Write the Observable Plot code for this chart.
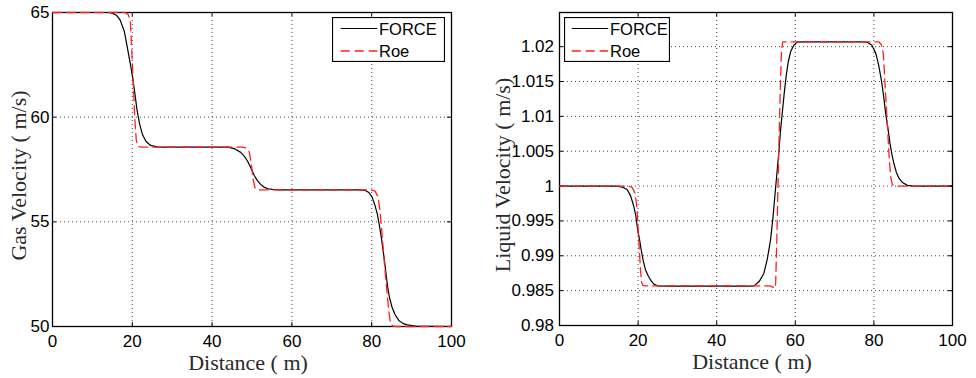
<!DOCTYPE html>
<html><head><meta charset="utf-8">
<script src="https://cdn.jsdelivr.net/npm/d3@7"></script>
<script src="https://cdn.jsdelivr.net/npm/@observablehq/plot@0.6"></script>
<style>
body{margin:0;background:#fff;}
#wrap{position:relative;width:976px;height:378px;overflow:hidden;background:#fff;}
#wrap svg{position:absolute;top:0;}
</style></head><body><div id="wrap"></div>
<script>
// ---- tick values / labels ----
const xTicks = [0, 20, 40, 60, 80, 100];
const gasTicks = [50, 55, 60, 65];
const liqTicks = [0.98, 0.985, 0.99, 0.995, 1, 1.005, 1.01, 1.015, 1.02];
const seriesNames = ["FORCE", "Roe"];
const xLabel = "Distance ( m)";
const gasLabel = "Gas Velocity ( m/s)";
const liqLabel = "Liquid Velocity ( m/s)";

// ---- Gas velocity, FORCE ----
const gasForceX = [0, 14, 15, 16, 17, 18, 18.9, 19.6, 20.2, 20.7, 21.2, 21.8, 22.5, 23.4, 24.6, 26.2, 28,
  44, 45.5, 47.1, 48, 48.8, 49.4, 50.0, 50.6, 51.3, 52.1, 53.0, 54, 55.1, 57,
  77, 78.4, 79.3, 80.1, 80.8, 81.4, 81.9, 82.4, 82.8, 83.2, 83.6, 84.0, 84.5, 85.1, 85.9, 86.8, 87.8, 88.9, 91, 100];
const gasForceY = [65, 65, 64.97, 64.87, 64.62, 64.1, 63.18, 62.45, 61.75, 61.05, 60.32, 59.7, 59.2, 58.85, 58.65, 58.58, 58.57,
  58.57, 58.5, 58.33, 58.15, 57.93, 57.7, 57.45, 57.2, 56.98, 56.8, 56.66, 56.58, 56.55, 56.53,
  56.53, 56.5, 56.4, 56.18, 55.8, 55.38, 54.85, 54.27, 53.7, 53.15, 52.5, 51.88, 51.35, 50.92, 50.55, 50.29, 50.15, 50.08, 50.02, 50];

// ---- Gas velocity, Roe ----
const gasRoeX = [0, 18.2, 19.0, 19.5, 19.8, 20.2, 20.6, 21.0, 21.4, 22,
  47.5, 48.6, 49.3, 49.7, 50.0, 50.3, 50.7, 51.2, 52,
  79.7, 80.8, 81.6, 82.1, 82.6, 83.2, 83.8, 84.3, 84.7, 85.2, 86, 100];
const gasRoeY = [65, 65, 64.9, 64.6, 63.5, 61.8, 60.0, 58.9, 58.6, 58.57,
  58.57, 58.53, 58.35, 57.9, 57.5, 57.0, 56.65, 56.55, 56.53,
  56.53, 56.48, 56.2, 55.5, 54.4, 53.0, 51.7, 50.7, 50.2, 50.03, 50, 50];

// ---- Liquid velocity, FORCE ----
const liqForceX = [0, 14, 15.1, 16.2, 17.2, 18.1, 18.9, 19.4, 19.9, 20.4, 20.8, 21.3, 21.9, 22.5, 23.2, 24.0, 24.9, 27,
  48, 49.5, 50.8, 52.0, 52.9, 53.7, 54.3, 54.8, 55.3, 55.8, 56.2, 56.7, 57.2, 57.7, 58.2, 58.8, 59.6, 60.5, 62.2, 64,
  77, 78.4, 79.5, 80.5, 81.2, 81.9, 82.5, 83.0, 83.6, 84.1, 84.6, 85.1, 85.7, 86.4, 87.3, 88.5, 90, 100];
const liqForceY = [1, 1, 0.99995, 0.9998, 0.9995, 0.9986, 0.9971, 0.9958, 0.9937, 0.9922, 0.9908, 0.9893, 0.98795, 0.9872, 0.9865, 0.98595, 0.98568, 0.98565,
  0.98565, 0.98568, 0.9863, 0.98747, 0.9896, 0.99228, 0.9954, 0.99854, 1.0017, 1.00481, 1.0077, 1.01059, 1.0134, 1.01588, 1.0178, 1.01926, 1.0202, 1.02065, 1.0207, 1.0207,
  1.0207, 1.0206, 1.0202, 1.0190, 1.0174, 1.0152, 1.0128, 1.0104, 1.0082, 1.0061, 1.0045, 1.0032, 1.0020, 1.0011, 1.0005, 1.0001, 1.0, 1.0];

// ---- Liquid velocity, Roe ----
const liqRoeX = [0, 17.6, 18.5, 19.2, 19.7, 20.0, 20.3, 20.6, 20.9, 21.2, 21.9,
  53.6, 54.3, 54.7, 55.0, 55.3, 55.6, 55.9, 56.2, 56.5, 56.8, 57.5,
  81.2, 81.9, 82.4, 82.7, 83.1, 83.5, 83.9, 84.3, 84.7, 85.6, 100];
const liqRoeY = [1, 1, 0.9998, 0.999, 0.997, 0.994, 0.991, 0.988, 0.9862, 0.98575, 0.98568,
  0.98568, 0.9855, 0.9853, 0.986, 0.9925, 1.0, 1.0075, 1.0145, 1.0195, 1.0207, 1.0207,
  1.0207, 1.0203, 1.019, 1.016, 1.012, 1.008, 1.004, 1.0012, 1.0002, 1.0, 1.0];

const toRows = (xs, ys) => xs.map((x, i) => ({x, y: ys[i]}));
const RED = "#ff1f1f";
const DASH = "9,5";
const SERIF = "'Liberation Serif', 'Times New Roman', serif";

function panel(o) {
  const innerH = o.height - o.marginTop - o.marginBottom;
  const innerW = o.width - o.marginLeft - o.marginRight;
  const fmt = d => String(+d.toFixed(3));
  const svg = Plot.plot({
    width: o.width, height: o.height,
    marginLeft: o.marginLeft, marginRight: o.marginRight,
    marginTop: o.marginTop, marginBottom: o.marginBottom,
    style: {fontFamily: "'Liberation Sans', Arial, sans-serif", fontSize: "17px", color: "#000", background: "transparent", overflow: "visible"},
    x: {domain: [0, 100]},
    y: {domain: o.yDomain},
    marks: [
      Plot.gridX(xTicks, {stroke: "#333", strokeOpacity: 0.9, strokeDasharray: "1,3", strokeWidth: 1}),
      Plot.gridY(o.yTicks, {stroke: "#333", strokeOpacity: 0.9, strokeDasharray: "1,3", strokeWidth: 1}),
      Plot.tickX(xTicks, {x: d => d, insetTop: innerH - 4, stroke: "#000"}),
      Plot.tickX(xTicks, {x: d => d, insetBottom: innerH - 4, stroke: "#000"}),
      Plot.tickY(o.yTicks, {y: d => d, insetRight: innerW - 4, stroke: "#000"}),
      Plot.tickY(o.yTicks, {y: d => d, insetLeft: innerW - 4, stroke: "#000"}),
      Plot.axisX(xTicks, {tickSize: 0, tickPadding: 8, label: null, fontSize: 17, fill: "#000", tickFormat: fmt}),
      Plot.axisY(o.yTicks, {tickSize: 0, tickPadding: o.yPad, label: null, fontSize: 17, fill: "#000", tickFormat: fmt}),
      Plot.frame({stroke: "#000", strokeWidth: 1.3}),
      Plot.line(toRows(o.fx, o.fy), {x: "x", y: "y", stroke: "#000", strokeWidth: 1.2}),
      Plot.line(toRows(o.rx, o.ry), {x: "x", y: "y", stroke: RED, strokeWidth: 1.3, strokeDasharray: DASH}),
      Plot.text([xLabel], {frameAnchor: "bottom", lineAnchor: "middle", textAnchor: "middle", dy: 36, dx: -4, fontFamily: SERIF, fontSize: 22, fill: "#2a2a2a"}),
      Plot.text([o.yLabel], {frameAnchor: "left", lineAnchor: "middle", textAnchor: "middle", dx: o.labelDx, dy: 6, rotate: -90, fontFamily: SERIF, fontSize: 22, fill: "#2a2a2a"})
    ]
  });
  svg.style.left = o.left + "px";
  return svg;
}

function legend(o) {
  const ns = "http://www.w3.org/2000/svg";
  const svg = document.createElementNS(ns, "svg");
  svg.setAttribute("width", o.w);
  svg.setAttribute("height", o.h);
  svg.style.left = o.left + "px";
  svg.style.top = o.top + "px";
  const add = (tag, attrs, text) => {
    const el = document.createElementNS(ns, tag);
    for (const k in attrs) el.setAttribute(k, attrs[k]);
    if (text) el.textContent = text;
    svg.appendChild(el);
  };
  add("rect", {x: 0.5, y: 0.5, width: o.w - 1, height: o.h - 1, fill: "#fff", stroke: "#000", "stroke-width": 1.2});
  add("line", {x1: o.lx, x2: o.lx + 36.5, y1: 11.5, y2: 11.5, stroke: "#000", "stroke-width": 1.2});
  add("line", {x1: o.lx, x2: o.lx + 36.5, y1: 34, y2: 34, stroke: RED, "stroke-width": 1.3, "stroke-dasharray": DASH});
  add("text", {x: o.tx, y: 17.5, "font-family": "'Liberation Sans', Arial, sans-serif", "font-size": 16.5}, seriesNames[0]);
  add("text", {x: o.tx, y: 39.5, "font-family": "'Liberation Sans', Arial, sans-serif", "font-size": 16.5}, seriesNames[1]);
  return svg;
}

const wrap = document.getElementById("wrap");
wrap.appendChild(panel({left: 0, width: 480, height: 378, marginLeft: 52, marginRight: 29, marginTop: 12, marginBottom: 52,
  yDomain: [50, 65], yTicks: gasTicks, yPad: 3, yLabel: gasLabel, labelDx: -34,
  fx: gasForceX, fy: gasForceY, rx: gasRoeX, ry: gasRoeY}));
wrap.appendChild(panel({left: 480, width: 496, height: 378, marginLeft: 79, marginRight: 24, marginTop: 12, marginBottom: 53,
  yDomain: [0.98, 1.0249], yTicks: liqTicks, yPad: 5.5, yLabel: liqLabel, labelDx: -57,
  fx: liqForceX, fy: liqForceY, rx: liqRoeX, ry: liqRoeY}));
wrap.appendChild(legend({left: 332, top: 17, w: 113, h: 45, lx: 8.7, tx: 47}));
wrap.appendChild(legend({left: 564, top: 17, w: 106, h: 45, lx: 7.7, tx: 46}));
</script></body></html>
